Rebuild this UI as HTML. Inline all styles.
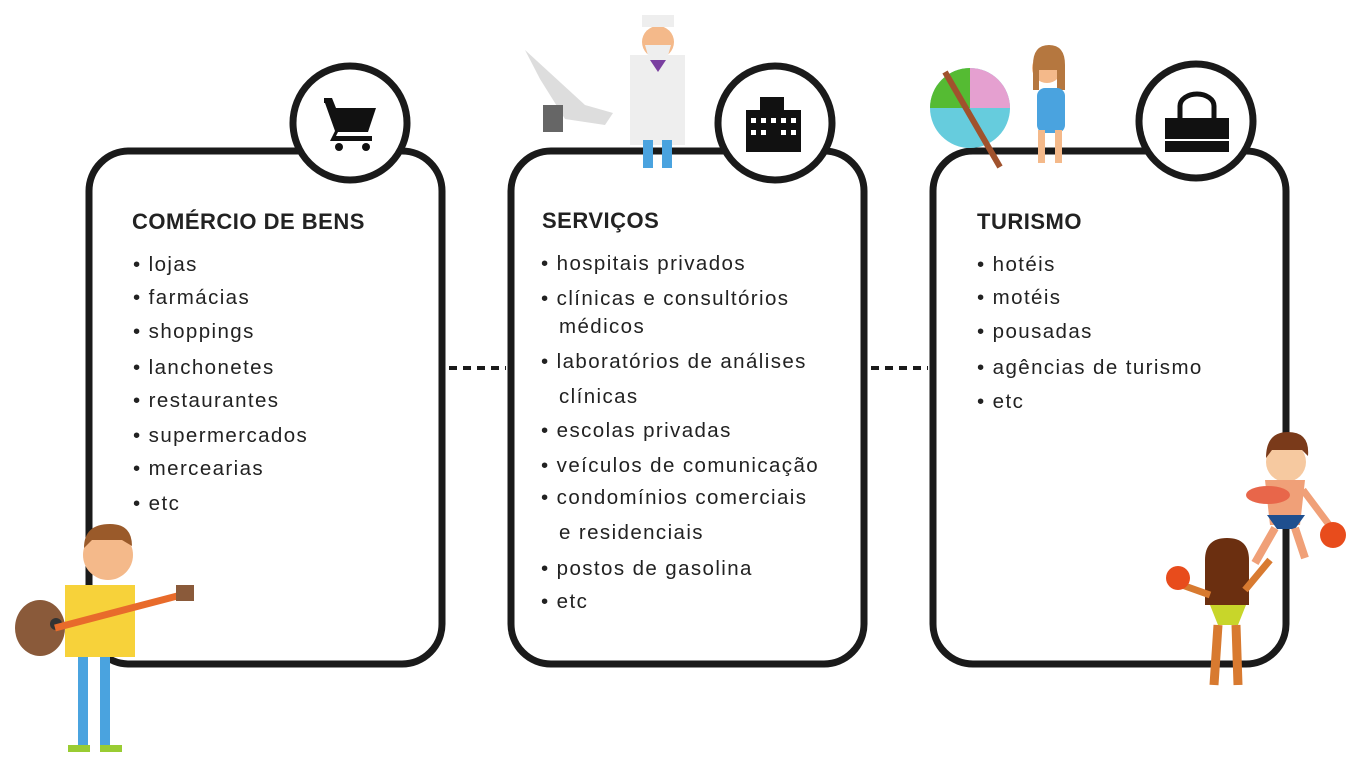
<!DOCTYPE html>
<html><head><meta charset="utf-8"><style>
body{margin:0;width:1350px;height:765px;background:#fff;overflow:hidden}
svg{position:absolute;left:0;top:0}
.t{font-family:"Liberation Sans",sans-serif;font-weight:bold;font-size:22px;fill:#222;letter-spacing:0.5px}
.l{font-family:"Liberation Sans",sans-serif;font-size:20.5px;fill:#222;letter-spacing:1.4px}
</style></head><body>
<svg width="1350" height="765" viewBox="0 0 1350 765">
<g fill="none" stroke="#1a1a1a" stroke-width="7">
<rect x="89" y="151" width="353" height="513" rx="40"/>
<rect x="511" y="151" width="353" height="513" rx="40"/>
<rect x="933" y="151" width="353" height="513" rx="40"/>
</g>
<g stroke="#1a1a1a" stroke-width="4" stroke-dasharray="8,6">
<line x1="449" y1="368" x2="506" y2="368"/>
<line x1="871" y1="368" x2="928" y2="368"/>
</g>
<g fill="#fff" stroke="#1a1a1a" stroke-width="7">
<circle cx="350" cy="123" r="57"/>
<circle cx="775" cy="123" r="57"/>
<circle cx="1196" cy="121" r="57"/>
</g>
<!-- cart -->
<g fill="#111">
<path d="M324 98h8l4 10h40l-8 24h-30l-2 4h36v5h-42l5-10-10-28h-1z"/>
<circle cx="339" cy="147" r="4"/><circle cx="366" cy="147" r="4"/>
</g>
<!-- building -->
<g fill="#111"><rect x="746" y="110" width="55" height="42"/><rect x="760" y="97" width="24" height="14"/></g>
<g fill="#fff"><rect x="751" y="118" width="5" height="5"/><rect x="761" y="118" width="5" height="5"/><rect x="771" y="118" width="5" height="5"/><rect x="781" y="118" width="5" height="5"/><rect x="791" y="118" width="5" height="5"/><rect x="751" y="130" width="5" height="5"/><rect x="761" y="130" width="5" height="5"/><rect x="781" y="130" width="5" height="5"/><rect x="791" y="130" width="5" height="5"/></g>
<!-- bag -->
<g fill="#111"><rect x="1165" y="118" width="64" height="34"/></g>
<path d="M1180 118v-12a17 12 0 0 1 34 0v12" fill="none" stroke="#111" stroke-width="5"/>
<line x1="1165" y1="140" x2="1229" y2="140" stroke="#fff" stroke-width="2"/>
<!-- text -->
<text class="t" x="132" y="229">COMÉRCIO DE BENS</text>
<g class="l">
<text x="133" y="271">• lojas</text><text x="133" y="304">• farmácias</text><text x="133" y="338">• shoppings</text><text x="133" y="374">• lanchonetes</text><text x="133" y="407">• restaurantes</text><text x="133" y="442">• supermercados</text><text x="133" y="475">• mercearias</text><text x="133" y="510">• etc</text>
<text x="541" y="270">• hospitais privados</text><text x="541" y="305">• clínicas e consultórios</text><text x="559" y="333">médicos</text><text x="541" y="368">• laboratórios de análises</text><text x="559" y="403">clínicas</text><text x="541" y="437">• escolas privadas</text><text x="541" y="472">• veículos de comunicação</text><text x="541" y="504">• condomínios comerciais</text><text x="559" y="539">e residenciais</text><text x="541" y="575">• postos de gasolina</text><text x="541" y="608">• etc</text>
<text x="977" y="271">• hotéis</text><text x="977" y="304">• motéis</text><text x="977" y="338">• pousadas</text><text x="977" y="374">• agências de turismo</text><text x="977" y="408">• etc</text>
</g>
<text class="t" x="542" y="228">SERVIÇOS</text>
<text class="t" x="977" y="229">TURISMO</text>
<!-- guitar guy -->
<g>
<rect x="78" y="650" width="10" height="98" fill="#4aa3df"/><rect x="100" y="650" width="10" height="98" fill="#4aa3df"/>
<rect x="68" y="745" width="22" height="7" fill="#9c3"/><rect x="100" y="745" width="22" height="7" fill="#9c3"/>
<rect x="65" y="585" width="70" height="72" fill="#f7d23a"/>
<circle cx="108" cy="555" r="25" fill="#f4b98a"/>
<path d="M84 548q0-24 26-24q22 0 22 22l-10-6h-30z" fill="#9a5a2a"/>
<ellipse cx="40" cy="628" rx="25" ry="28" fill="#8a5a3a"/>
<circle cx="56" cy="624" r="6" fill="#333"/>
<path d="M55 628l130-34" stroke="#e86b2b" stroke-width="7"/>
<rect x="176" y="585" width="18" height="16" fill="#8a5a3a"/>
</g>
<!-- doctor & chair -->
<g>
<path d="M525 50l60 55 28 8-8 12-40-6-25-40z" fill="#ddd"/><rect x="543" y="105" width="20" height="27" fill="#666"/>
<rect x="630" y="55" width="55" height="90" fill="#eee"/>
<rect x="643" y="140" width="10" height="28" fill="#4aa3df"/><rect x="662" y="140" width="10" height="28" fill="#4aa3df"/>
<circle cx="658" cy="42" r="16" fill="#f4b98a"/><rect x="642" y="15" width="32" height="12" fill="#eee"/>
<path d="M645 45h26l-4 14h-18z" fill="#eee"/>
<path d="M650 60l8 12 8-12z" fill="#7a3fa0"/>
</g>
<!-- beach ball + girl -->
<g>
<circle cx="970" cy="108" r="40" fill="#6cd"/>
<path d="M970 68a40 40 0 0 1 40 40h-40z" fill="#e5a0d0"/>
<path d="M930 108a40 40 0 0 1 40-40v40z" fill="#5b3"/>
<path d="M945 72l55 95" stroke="#a0522d" stroke-width="6"/>
<circle cx="1047" cy="68" r="15" fill="#f4b98a"/><path d="M1033 65q0-20 16-20t16 20v25h-8v-20h-18v20h-6z" fill="#b5773f"/>
<rect x="1037" y="88" width="28" height="45" rx="8" fill="#4aa3df"/>
<rect x="1038" y="130" width="7" height="33" fill="#f4b98a"/><rect x="1055" y="130" width="7" height="33" fill="#f4b98a"/>
</g>
<!-- beach players -->
<g>
<circle cx="1286" cy="462" r="20" fill="#f6c9a0"/><path d="M1266 458q0-26 22-26t20 24l-6-6h-30z" fill="#7a3a1a"/>
<path d="M1265 480h40l-5 45h-30z" fill="#f0a078"/><ellipse cx="1268" cy="495" rx="22" ry="9" fill="#e8664a"/>
<path d="M1267 515h38l-10 14h-18z" fill="#1f4f8f"/>
<path d="M1303 490l30 40" stroke="#f0a078" stroke-width="7"/><circle cx="1333" cy="535" r="13" fill="#e84c1c"/>
<path d="M1275 528l-20 35M1295 528l10 30" stroke="#f0a078" stroke-width="8"/>
<path d="M1205 560q0-22 22-22t22 22v45h-44z" fill="#6b2f10"/>
<path d="M1210 605h36l-8 20h-20z" fill="#c8d62a"/>
<path d="M1218 625l-4 60M1236 625l2 60" stroke="#d87a30" stroke-width="9"/>
<path d="M1245 590l25-30M1210 595l-28 -10" stroke="#d87a30" stroke-width="7"/>
<circle cx="1178" cy="578" r="12" fill="#e84c1c"/>
</g>
</svg>
</body></html>
